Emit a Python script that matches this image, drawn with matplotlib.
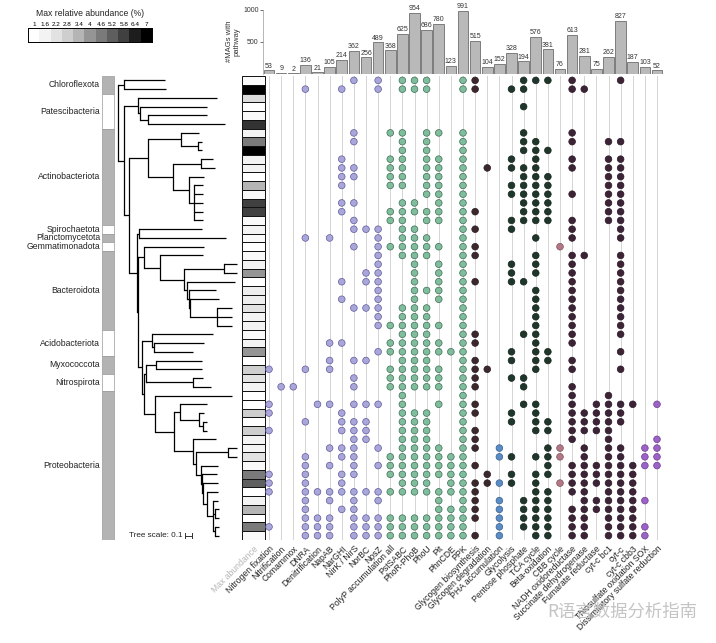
import numpy as np
import matplotlib
matplotlib.use("Agg")
import matplotlib.pyplot as plt
from matplotlib import colors as mcolors

plt.rcParams['font.family'] = ['Liberation Sans', 'DejaVu Sans']

# ---------------- data ----------------
pathways = [
    "Nitrogen fixation", "Nitrification", "Comammox", "DNRA", "Denitrification",
    "NapAB", "NarGHI", "NirK / NirS", "NorBC", "NosZ",
    "PolyP accumulation all", "PstSABC", "PhoR-PhoB", "PhoU", "Pit", "PhnCDE", "PPK",
    "Glycogen biosynthesis", "Glycogen degradation", "PHA accumulation",
    "Glycolysis", "Pentose phosphate", "TCA cycle", "Beta-oxidation", "CBB cycle",
    "NADH oxidoreductase", "Succinate dehydrogenase", "Fumarate reductase",
    "cyt-c bc1", "cyt-c", "cyt-c cbb3",
    "Thiosulfate oxidation SOX", "Dissimilatory sulfate reduction",
]
mags_with_pathway = [53, 9, 2, 136, 21, 105, 214, 362, 256, 489, 368, 625, 954, 686,
                     780, 123, 991, 515, 104, 152, 328, 194, 576, 381, 76, 613, 281,
                     75, 262, 827, 187, 103, 52]
pathway_group = (["N"] * 10 + ["P"] * 7 + ["G"] * 2 + ["H"] + ["C"] * 4 + ["B"]
                 + ["E"] * 6 + ["S"] * 2)
group_fill = {"N": "#a9a6d9", "P": "#80bd9c", "G": "#3b282c", "H": "#5b8cc6",
              "C": "#1f362b", "B": "#b27886", "E": "#3c2336", "S": "#9c63c6"}
group_edge = {"N": "#5f5a9c", "P": "#3c6c54", "G": "#2a1b1f", "H": "#34608f",
              "C": "#14241c", "B": "#7d4f5a", "E": "#2a1726", "S": "#6c3d90"}

# pathway columns (1..33) present in each MAG row, top to bottom
pathway_hits = [
    [8, 10, 12, 13, 14, 17, 18, 22, 23, 24, 26, 30],
    [4, 7, 10, 12, 13, 14, 17, 18, 21, 22, 26, 27],
    [],
    [22],
    [],
    [],
    [8, 11, 12, 14, 15, 17, 22, 26],
    [8, 12, 14, 17, 22, 23, 26, 29, 30],
    [12, 14, 17, 22, 23, 24],
    [7, 11, 12, 14, 15, 17, 21, 23, 26, 29, 30],
    [7, 8, 11, 12, 14, 15, 17, 19, 21, 22, 23, 26, 29, 30],
    [7, 8, 11, 12, 14, 15, 17, 22, 23, 24, 29, 30],
    [7, 11, 12, 14, 15, 17, 21, 22, 23, 24, 29, 30],
    [14, 15, 17, 21, 22, 23, 24, 26, 29, 30],
    [7, 8, 12, 13, 15, 17, 22, 23, 24, 29, 30],
    [7, 11, 12, 13, 14, 15, 17, 18, 22, 23, 24, 29, 30],
    [8, 11, 12, 14, 15, 17, 21, 22, 23, 24, 26, 29, 30],
    [8, 9, 10, 12, 13, 17, 18, 21, 26, 30],
    [4, 6, 10, 12, 13, 14, 17, 23, 26, 30],
    [8, 10, 11, 12, 13, 14, 15, 17, 18, 25],
    [10, 12, 13, 14, 17, 18, 23, 26, 27, 30],
    [10, 13, 15, 17, 21, 23, 26, 30],
    [9, 10, 13, 15, 17, 21, 23, 26, 30],
    [7, 9, 10, 13, 15, 17, 18, 21, 22, 26, 30],
    [10, 13, 14, 15, 17, 23, 26, 30],
    [7, 10, 13, 15, 17, 23, 26, 30],
    [8, 9, 10, 12, 13, 14, 17, 23, 26, 30],
    [10, 12, 13, 14, 17, 23, 26, 30],
    [10, 11, 12, 13, 14, 15, 17, 23, 26, 30],
    [12, 13, 14, 17, 18, 22, 23, 26, 30],
    [6, 7, 11, 12, 13, 14, 15, 17, 18, 23, 26],
    [10, 11, 12, 13, 14, 15, 16, 17, 21, 23, 24, 30],
    [6, 8, 9, 12, 13, 14, 17, 18, 21, 23, 24, 26],
    [1, 4, 6, 11, 12, 13, 14, 15, 17, 18, 19, 23, 26, 30],
    [8, 11, 12, 13, 14, 15, 17, 18, 21, 22],
    [2, 3, 8, 11, 12, 13, 14, 15, 17, 18, 22, 26],
    [12, 17, 26, 29],
    [1, 5, 6, 8, 9, 10, 12, 15, 17, 18, 22, 23, 26, 28, 29, 30, 31, 33],
    [1, 7, 12, 13, 14, 17, 18, 21, 23, 26, 27, 28, 29, 30],
    [4, 7, 8, 9, 12, 13, 14, 17, 21, 23, 24, 26, 27, 28, 29, 30],
    [1, 7, 8, 9, 12, 13, 14, 17, 18, 23, 24, 26, 27, 28, 29],
    [8, 9, 12, 13, 14, 17, 18, 26, 29, 33],
    [6, 7, 8, 10, 12, 13, 14, 15, 17, 18, 20, 24, 25, 27, 29, 30, 32, 33],
    [4, 7, 8, 11, 12, 13, 14, 15, 16, 17, 20, 21, 23, 24, 25, 27, 29, 30, 32, 33],
    [4, 6, 8, 10, 11, 12, 13, 14, 15, 16, 17, 18, 24, 26, 27, 28, 29, 30, 31, 32, 33],
    [1, 4, 7, 8, 11, 12, 13, 14, 15, 16, 17, 19, 21, 23, 24, 26, 27, 28, 29, 30, 31],
    [1, 4, 7, 12, 13, 14, 16, 17, 18, 19, 20, 21, 23, 25, 26, 27, 28, 29, 30, 31],
    [1, 4, 5, 6, 7, 8, 9, 10, 11, 12, 13, 14, 15, 16, 17, 18, 23, 24, 26, 27, 29, 30, 31],
    [4, 6, 8, 10, 15, 17, 18, 20, 22, 23, 24, 27, 28, 29, 30, 31, 32],
    [4, 7, 8, 15, 16, 17, 18, 20, 22, 23, 24, 26, 27, 28, 29, 30, 31],
    [4, 5, 6, 8, 9, 10, 11, 12, 13, 14, 15, 16, 17, 18, 20, 22, 23, 24, 26, 27, 29, 30, 31],
    [1, 4, 5, 6, 8, 9, 10, 11, 12, 13, 14, 15, 16, 17, 20, 22, 23, 24, 26, 27, 29, 30, 31, 32],
    [4, 5, 6, 8, 9, 10, 11, 12, 13, 14, 15, 16, 17, 18, 20, 23, 24, 26, 27, 29, 30, 31, 32],
]
max_abundance = [1.2, 7, 2.4, 1, 1.3, 6, 1.6, 4.6, 7, 1.6,
                 1.6, 1, 3.4, 1.3, 5.8, 5.8, 1.3, 1.6, 1.3, 1,
                 1.3, 1.6, 4, 1, 1.8, 1.8, 2.2, 1.6, 1.6, 1.3,
                 1.6, 4, 1, 2.8, 2.2, 1.6, 1, 1, 2.8, 1,
                 2.8, 1.6, 1.6, 2.2, 1.3, 4.6, 5.2, 1, 1.6, 3.4,
                 1, 4.6, 1.3]
legend_levels = [1, 1.6, 2.2, 2.8, 3.4, 4, 4.6, 5.2, 5.8, 6.4, 7]

phyla = ["Chloroflexota", "Patescibacteria", "Actinobacteriota", "Spirochaetota",
         "Planctomycetota", "Gemmatimonadota", "Bacteroidota", "Acidobacteriota",
         "Myxococcota", "Nitrospirota", "Proteobacteria"]
phylum_rows = [2, 4, 11, 1, 1, 1, 9, 3, 2, 2, 17]
phylum_shaded = [True, False, True, False, True, False, True, False, True, False, True]

# tree, branch lengths in units of 0.1/7
tree_newick = (
    "((t0:41,t1:42):6,"
    "((t2:79,(t3:67,(t4:59,t5:77):8):2):14,"
    "("
    "((t6:18,(t7:4,t8:4):17):33,"
    "((t9:12,t10:14):28,(t11:15,(t12:9,t13:9,t14:9,t15:9,t16:9):5):16):25):19,"
    "("
    "(t17:63,t18:87):2,"
    "("
    "(t19:60,(t20:43,((t21:13,t22:13):40,(t23:48,(t24:27,(t25:29,"
    "(t26:15,t27:15,t28:15):27):1):2):3):24):16):6,"
    "("
    "(t29:61,(t30:50,t31:39):2):10,"
    "("
    "((t32:46,t33:46):10,(t34:10,t35:18):47):2,"
    "(t36:77,("
    "(t37:27,(t38:5,(t39:4,t40:4):4):19):6,"
    "(t41:23,((t42:9,t43:9):32,(t44:17,(t45:15,(t46:15,(t47:11,(t48:5,"
    "(t49:4,t50:4):2,(t51:4,t52:4):2):6):4):1):1):5):3):19"
    "):19):11"
    "):2"
    "):4"
    "):1"
    "):8"
    "):5"
    "):6"
    ");"
)
UNIT = 0.1 / 7

# ---------------- layout helpers ----------------
W, H = 716, 643
N_ROWS = len(pathway_hits)
TOP, BOTTOM = 76, 540
COL1_PX, COL_STEP = 269, 12.125
ROOT_PX, PX_PER_TREE = 118, 70.0


def rect(x0, y0, x1, y1):
    return [x0 / W, 1 - y1 / H, (x1 - x0) / W, (y1 - y0) / H]


def px_col(px):
    return (px - COL1_PX) / COL_STEP + 1


def px_tree(px):
    return (px - ROOT_PX) / PX_PER_TREE


def parse_newick(s):
    pos = 0

    def node():
        nonlocal pos
        children = []
        if s[pos] == "(":
            pos += 1
            while True:
                children.append(node())
                ch = s[pos]
                pos += 1
                if ch == ")":
                    break
        start = pos
        while s[pos] not in ":,);":
            pos += 1
        name = s[start:pos]
        length = 0.0
        if s[pos] == ":":
            pos += 1
            start = pos
            while s[pos] not in ",);":
                pos += 1
            length = float(s[start:pos])
        return {"name": name, "len": length, "children": children}

    return node()


fig = plt.figure(figsize=(W / 100, H / 100), dpi=100)
grey_cmap = plt.get_cmap("Greys")
norm = mcolors.Normalize(vmin=1, vmax=7)

# ---------------- tree + phylum bar ----------------
ax_tree = fig.add_axes(rect(0, TOP, 240, BOTTOM))
ax_tree.set_xlim(px_tree(0), px_tree(240))
ax_tree.set_ylim(N_ROWS - 0.5, -0.5)
ax_tree.axis("off")

tree = parse_newick(tree_newick)
leaves = []


def layout(n, depth):
    n["x"] = depth + n["len"] * UNIT
    if n["children"]:
        for c in n["children"]:
            layout(c, n["x"])
        n["y"] = (n["children"][0]["y"] + n["children"][-1]["y"]) / 2
    else:
        n["y"] = len(leaves)
        leaves.append(n)


def draw(n):
    if not n["children"]:
        return
    ys = [c["y"] for c in n["children"]]
    ax_tree.plot([n["x"], n["x"]], [ys[0], ys[-1]], color="black", lw=0.9,
                 solid_capstyle="projecting")
    for c in n["children"]:
        ax_tree.plot([n["x"], c["x"]], [c["y"], c["y"]], color="black", lw=0.9,
                     solid_capstyle="butt")
        draw(c)


layout(tree, 0.0)
draw(tree)

start = -0.5
for name, nrow, shaded in zip(phyla, phylum_rows, phylum_shaded):
    ax_tree.bar(px_tree(102), nrow, bottom=start, width=px_tree(114) - px_tree(102),
                align="edge", color="#b3b3b3" if shaded else "white",
                edgecolor="#9a9a9a", lw=0.5)
    ax_tree.text(px_tree(100), start + nrow / 2, name, ha="right", va="center",
                 fontsize=6.2, color="#222222")
    start += nrow

ax_tree.text(px_tree(183), N_ROWS - 1, "Tree scale: 0.1", ha="right", va="center",
             fontsize=5.9, color="#222222")
sx = px_tree(185)
ax_tree.plot([sx, sx + 0.1], [N_ROWS - 1, N_ROWS - 1], color="#333333", lw=0.7)
ax_tree.plot([sx, sx], [N_ROWS - 1.3, N_ROWS - 0.7], color="#333333", lw=0.7)
ax_tree.plot([sx + 0.1, sx + 0.1], [N_ROWS - 1.3, N_ROWS - 0.7], color="#333333", lw=0.7)

# ---------------- matrix ----------------
x_left, x_right = px_col(240), px_col(664)
ax_mat = fig.add_axes(rect(240, TOP, 664, BOTTOM))
ax_mat.set_xlim(x_left, x_right)
ax_mat.set_ylim(N_ROWS - 0.5, -0.5)
for sp in ax_mat.spines.values():
    sp.set_visible(False)

cols = np.arange(1, len(pathways) + 1)
ax_mat.vlines(cols, -0.85, N_ROWS - 0.5, color="#9c9c9c", lw=0.6,
              linestyles=(0, (1.2, 1.2)), zorder=1)

box_x = px_col(253.5)
box_w = 23 / COL_STEP
for r, v in enumerate(max_abundance):
    ax_mat.bar(box_x, 1, bottom=r - 0.5, width=box_w, color=grey_cmap(norm(v)),
               edgecolor="#111111", lw=0.7, zorder=2)

xs, ys, fc, ec = [], [], [], []
for r, hits in enumerate(pathway_hits):
    for c in hits:
        g = pathway_group[c - 1]
        xs.append(c)
        ys.append(r)
        fc.append(group_fill[g])
        ec.append(group_edge[g])
ax_mat.scatter(xs, ys, s=23, c=fc, edgecolors=ec, linewidths=0.5, zorder=3)

ax_mat.set_yticks([])
ax_mat.set_xticks([box_x] + list(cols))
ax_mat.set_xticklabels(["Max abundance"] + pathways, rotation=45, ha="right",
                       rotation_mode="anchor", fontsize=6.2, color="#222222")
ax_mat.get_xticklabels()[0].set_color("#b5b5b5")
ax_mat.tick_params(axis="x", length=0, pad=3)

# ---------------- bars ----------------
ax_bar = fig.add_axes(rect(263, 10, 664, 73.5))
ax_bar.set_xlim(px_col(263), x_right)
ax_bar.set_ylim(0, 1000)
ax_bar.bar(cols, mags_with_pathway, width=0.88, color="#b9b9b9",
           edgecolor="#6e6e6e", lw=0.6)
for c, v in zip(cols, mags_with_pathway):
    ax_bar.text(c, v + 8, str(v), ha="center", va="bottom", fontsize=5,
                color="#333333")
for s in ["top", "right", "bottom"]:
    ax_bar.spines[s].set_visible(False)
ax_bar.spines["left"].set_color("#999999")
ax_bar.spines["left"].set_linewidth(0.5)
ax_bar.set_xticks([])
ax_bar.set_yticks([500, 1000])
ax_bar.tick_params(axis="y", labelsize=5, length=2, width=0.5, pad=1,
                   colors="#333333")
ax_bar.set_ylabel("#MAGs with\npathway", fontsize=5.5, labelpad=2, color="#333333")
ax_bar.patch.set_alpha(0)

# ---------------- abundance legend ----------------
ax_leg = fig.add_axes(rect(28.3, 28, 151.7, 42))
ax_leg.imshow([legend_levels], cmap=grey_cmap, norm=norm, aspect="auto",
              extent=(-0.5, len(legend_levels) - 0.5, 0.5, -0.5))
ax_leg.xaxis.tick_top()
ax_leg.set_xticks(range(len(legend_levels)))
ax_leg.set_xticklabels([f"{v:g}" for v in legend_levels], fontsize=4.6)
ax_leg.tick_params(axis="x", length=0, pad=1)
ax_leg.set_yticks([])
for sp in ax_leg.spines.values():
    sp.set_linewidth(0.7)
fig.text(90 / W, 1 - 13 / H, "Max relative abundance (%)", ha="center",
         va="center", fontsize=6.2, color="#222222")

# watermark
fig.text(622 / W, 1 - 612 / H, "R语言数据分析指南", ha="center", va="center",
         fontsize=12.5, color="#c4c4c4",
         family=["Noto Sans CJK SC", "DejaVu Sans"])

fig.savefig("out.png", dpi=100)
